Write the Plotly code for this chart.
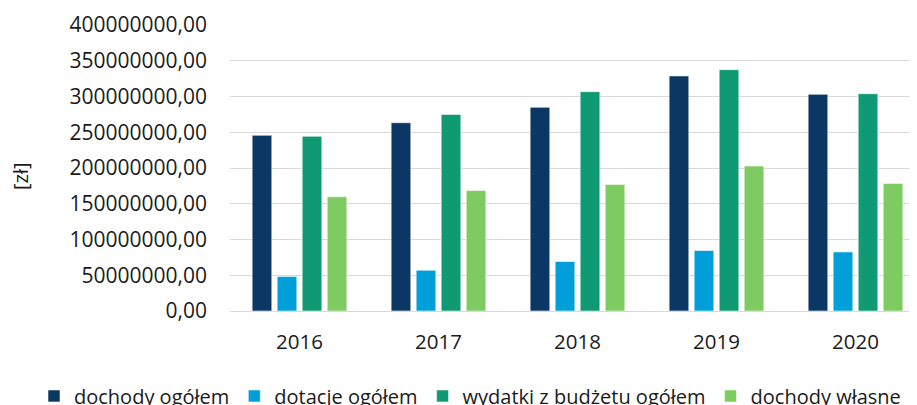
import plotly.graph_objects as go

years = ["2016", "2017", "2018", "2019", "2020"]
dochody_ogolem = [245.7e6, 263.3e6, 284.9e6, 328.7e6, 303.0e6]
dotacje_ogolem = [48.2e6, 57.0e6, 69.2e6, 84.6e6, 82.6e6]
wydatki_ogolem = [244.3e6, 275.0e6, 306.7e6, 337.5e6, 303.9e6]
dochody_wlasne = [159.7e6, 168.6e6, 177.0e6, 202.7e6, 178.4e6]

series_names = ["dochody ogółem", "dotacje ogółem", "wydatki z budżetu ogółem", "dochody własne"]
series_colors = ["#0a3763", "#009fda", "#0f9a73", "#7ecb61"]

y_tick_values = [0, 50e6, 100e6, 150e6, 200e6, 250e6, 300e6, 350e6, 400e6]
y_tick_labels = ["0,00", "50000000,00", "100000000,00", "150000000,00", "200000000,00",
                 "250000000,00", "300000000,00", "350000000,00", "400000000,00"]
y_title = "[zł]"

FONT = "Open Sans"
TXT = "#1a1a1a"

fig = go.Figure()
for name, vals, col in zip(series_names,
                           [dochody_ogolem, dotacje_ogolem, wydatki_ogolem, dochody_wlasne],
                           series_colors):
    fig.add_trace(go.Bar(
        x=years, y=vals, name=name,
        marker=dict(color=col, line=dict(color="rgba(255,255,255,0.55)", width=1)),
    ))

PW = 917 - 222  # plot width in px

fig.update_layout(
    width=917, height=405,
    margin=dict(l=222, r=0, t=17, b=102, autoexpand=False),
    plot_bgcolor="white", paper_bgcolor="white",
    barmode="group", bargap=0.28, bargroupgap=0.216,
    font=dict(family=FONT, size=20, color=TXT),
    showlegend=True,
    legend=dict(
        orientation="h", x=(34 - 230) / PW, xanchor="left", y=-0.297, yanchor="middle",
        font=dict(family=FONT, size=20, color=TXT),
        itemclick=False, traceorder="normal", tracegroupgap=0,
    ),
    xaxis=dict(
        type="category", range=[-0.5, 4.5],
        showgrid=False, showline=True, linecolor="#d9d9d9", linewidth=1.3,
        ticks="", tickfont=dict(family=FONT, size=20.5, color=TXT),
        ticklabelstandoff=12,
    ),
    yaxis=dict(
        range=[0, 400e6], tickvals=y_tick_values, ticktext=y_tick_labels,
        showgrid=True, gridcolor="#d9d9d9", gridwidth=1.3, zeroline=False,
        showline=False, ticks="",
        tickfont=dict(family=FONT, size=21, color=TXT),
        ticklabelstandoff=22,
    ),
    annotations=[dict(
        text=y_title, xref="paper", yref="paper",
        x=(21 - 230) / PW, y=(311 - 176) / 286, xanchor="center", yanchor="middle",
        textangle=-90, showarrow=False, font=dict(family=FONT, size=20, color=TXT),
    )],
)

fig.write_html("out.html")
